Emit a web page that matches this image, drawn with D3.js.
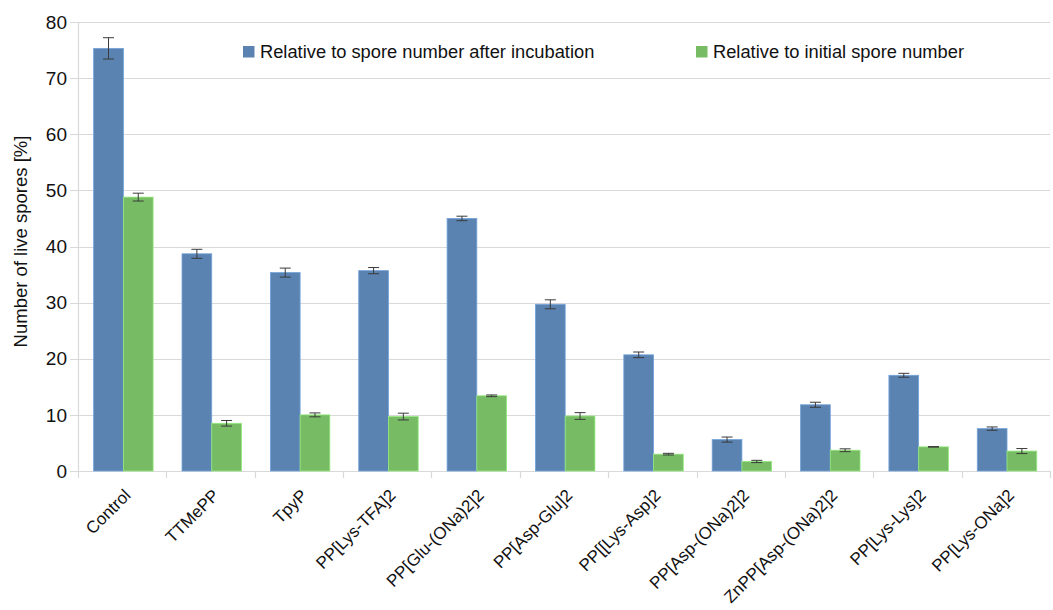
<!DOCTYPE html>
<html>
<head>
<meta charset="utf-8">
<script src="https://cdn.jsdelivr.net/npm/d3@7"></script>
<style>
  body { margin: 0; background: #fff; }
  svg { display: block; font-family: "Liberation Sans", Arial, sans-serif; }
</style>
</head>
<body>
<svg id="chart" width="1053" height="610"></svg>
<script>
const categories = ["Control", "TTMePP", "TpyP", "PP[Lys-TFA]2", "PP[Glu-(ONa)2]2",
  "PP[Asp-Glu]2", "PP[[Lys-Asp]2", "PP[Asp-(ONa)2]2", "ZnPP[Asp-(ONa)2]2",
  "PP[Lys-Lys]2", "PP[Lys-ONa]2"];
const seriesNames = ["Relative to spore number after incubation", "Relative to initial spore number"];
const afterIncubation = [75.3, 38.7, 35.35, 35.7, 45.0, 29.7, 20.7, 5.6, 11.8, 17.05, 7.55];
const afterIncubationErr = [1.9, 0.8, 0.8, 0.55, 0.4, 0.8, 0.5, 0.45, 0.45, 0.35, 0.3];
const initial = [48.8, 8.5, 10.0, 9.7, 13.4, 9.8, 3.0, 1.7, 3.7, 4.3, 3.55];
const initialErr = [0.7, 0.5, 0.35, 0.6, 0.15, 0.6, 0.15, 0.2, 0.25, 0.05, 0.45];
const yTicks = [0, 10, 20, 30, 40, 50, 60, 70, 80];
const colors = ["#5b83b1", "#77bc65"];

const svg = d3.select("#chart");
const margin = { top: 22, right: 3, bottom: 139, left: 78 };
const W = 1053, H = 610;

const x0 = d3.scaleBand().domain(categories).range([margin.left, W - margin.right]);
const bw = x0.bandwidth();
const x1 = d3.scaleBand().domain([0, 1]).range([bw * 0.177, bw * 0.85]);
const y = d3.scaleLinear().domain([0, 80]).range([H - margin.bottom, margin.top]);

// gridlines
svg.append("g")
  .selectAll("line")
  .data(yTicks)
  .join("line")
  .attr("x1", margin.left - 8)
  .attr("x2", W - margin.right)
  .attr("y1", d => Math.round(y(d)) + 0.5)
  .attr("y2", d => Math.round(y(d)) + 0.5)
  .attr("stroke", "#d9d9d9")
  .attr("stroke-width", 1.2);

// y axis line
svg.append("line")
  .attr("x1", margin.left + 0.5).attr("x2", margin.left + 0.5)
  .attr("y1", y(80)).attr("y2", y(0))
  .attr("stroke", "#d9d9d9").attr("stroke-width", 1.2);

// x category ticks
const boundaries = categories.map(c => x0(c)).concat([W - margin.right]);
svg.append("g")
  .selectAll("line")
  .data(boundaries)
  .join("line")
  .attr("x1", d => Math.round(d) + 0.5)
  .attr("x2", d => Math.round(d) + 0.5)
  .attr("y1", y(0))
  .attr("y2", y(0) + 7)
  .attr("stroke", "#d9d9d9").attr("stroke-width", 1.2);

// y tick labels
svg.append("g")
  .selectAll("text")
  .data(yTicks)
  .join("text")
  .attr("x", margin.left - 11)
  .attr("y", d => y(d))
  .attr("dy", "0.35em")
  .attr("text-anchor", "end")
  .attr("font-size", 19)
  .attr("fill", "#111")
  .text(d => d);

// y axis title
svg.append("text")
  .attr("transform", `translate(27,241.5) rotate(-90)`)
  .attr("text-anchor", "middle")
  .attr("font-size", 18.5)
  .attr("fill", "#111")
  .text("Number of live spores [%]");

// bars
const series = [
  { vals: afterIncubation, errs: afterIncubationErr },
  { vals: initial, errs: initialErr }
];
series.forEach((s, si) => {
  const g = svg.append("g");
  g.selectAll("rect")
    .data(categories)
    .join("rect")
    .attr("x", (c) => x0(c) + x1(si))
    .attr("width", x1.bandwidth())
    .attr("y", (c, i) => y(s.vals[i]))
    .attr("height", (c, i) => y(0) - y(s.vals[i]))
    .attr("fill", colors[si])
    .attr("stroke", d3.color(colors[si]).brighter(0.6))
    .attr("stroke-width", 0.8);
});

// error bars
series.forEach((s, si) => {
  const g = svg.append("g").attr("stroke", "#3a3a3a").attr("stroke-width", 1);
  categories.forEach((c, i) => {
    const cx = x0(c) + x1(si) + x1.bandwidth() / 2;
    const top = y(s.vals[i] + s.errs[i]);
    const bot = y(s.vals[i] - s.errs[i]);
    g.append("line").attr("x1", cx).attr("x2", cx).attr("y1", top).attr("y2", bot);
    g.append("line").attr("x1", cx - 5.5).attr("x2", cx + 5.5).attr("y1", top).attr("y2", top);
    g.append("line").attr("x1", cx - 5.5).attr("x2", cx + 5.5).attr("y1", bot).attr("y2", bot);
  });
});

// x labels
svg.append("g")
  .selectAll("text")
  .data(categories)
  .join("text")
  .attr("transform", c => `translate(${x0(c) + bw / 2 + 1},${y(0) + 17}) rotate(-45)`)
  .attr("text-anchor", "end")
  .attr("dy", "0.7em")
  .attr("font-size", 17)
  .attr("fill", "#111")
  .text(c => c);

// legend
const legendX = [243, 696];
seriesNames.forEach((name, i) => {
  svg.append("rect")
    .attr("x", legendX[i]).attr("y", 46)
    .attr("width", 11.5).attr("height", 11.5)
    .attr("fill", colors[i]);
  svg.append("text")
    .attr("x", legendX[i] + 17).attr("y", 52)
    .attr("dy", "0.35em")
    .attr("font-size", 18.3)
    .attr("fill", "#111")
    .text(name);
});
</script>
</body>
</html>
